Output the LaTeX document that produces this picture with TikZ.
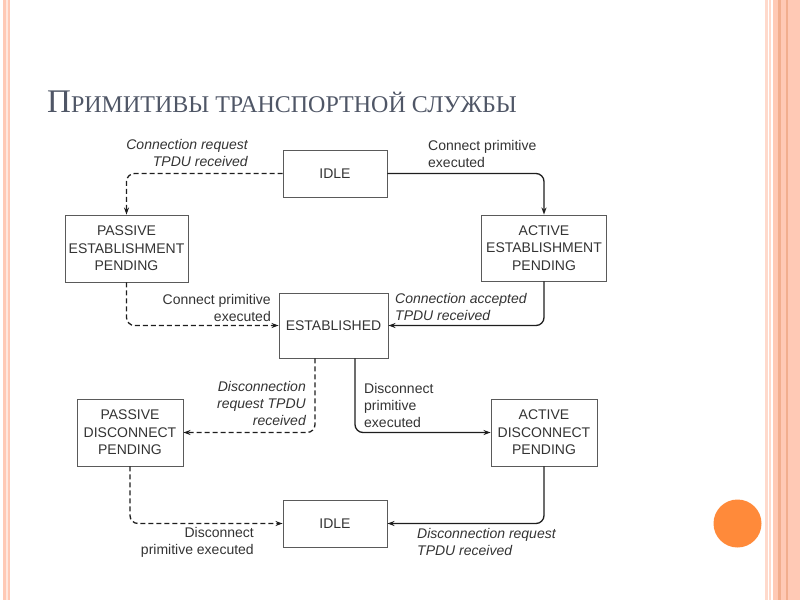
\documentclass[tikz,border=0pt]{standalone}
\usepackage{xcolor}
\usepackage{fontspec}
\setmainfont{Liberation Sans}
\newfontfamily\titlefont{Liberation Serif}
\usetikzlibrary{arrows.meta}
\usetikzlibrary{positioning}

\definecolor{boxline}{HTML}{5A5A5A}
\definecolor{wire}{HTML}{1E1E1E}
\definecolor{labeltext}{HTML}{333333}
\definecolor{titlegray}{HTML}{4F5666}
\definecolor{stripe}{HTML}{FFC9B5}
\definecolor{stripedark}{HTML}{F2AE8E}
\definecolor{dotorange}{HTML}{FF8A3A}

\begin{document}
\begin{tikzpicture}[
					x=1pt, y=-1pt,
					state/.style={draw=boxline, line width=0.9pt, align=center, text=labeltext, inner sep=0pt, font=\fontsize{14}{17.5}\selectfont},
					lbl/.style={text=labeltext, inner sep=0pt, font=\fontsize{14}{17}\selectfont},
					cause/.style={lbl, font=\fontsize{14}{17}\selectfont\itshape},
					flow/.style={draw=wire, line width=1.3pt, rounded corners=8pt, -{Stealth[length=7pt, width=5pt]}},
					flowdash/.style={flow, dash pattern=on 5pt off 3pt}
				]
					\useasboundingbox (0,0) rectangle (800,600);
					\fill[stripe] (3,0) rectangle (10,600);
					\fill[stripe!45] (5.5,0) rectangle (7.5,600);
					\fill[stripe!70] (765,0) rectangle (768,600);
					\fill[stripe!70] (769,0) rectangle (771,600);
					\fill[stripe] (773,0) rectangle (800,600);
					\fill[stripedark] (778,0) rectangle (780.5,600);
					\fill[stripedark] (786,0) rectangle (788,600);
					\fill[dotorange] (737.5,523.5) circle (24pt);

					\node[anchor=base west, text=titlegray, inner sep=0pt] (title) at (47,112) {\titlefont\fontsize{33}{33}\selectfont П\fontsize{24}{24}\selectfont РИМИТИВЫ ТРАНСПОРТНОЙ СЛУЖБЫ};

					\node[state, minimum width=104pt, minimum height=47pt] (idle) at (335,173.5) {IDLE};
					\node[state, minimum width=123pt, minimum height=67pt] (pasest) at (126.5,248.5) {PASSIVE\\ESTABLISHMENT\\PENDING};
					\node[state, minimum width=125pt, minimum height=66pt] (actest) at (544,248) {ACTIVE\\ESTABLISHMENT\\PENDING};
					\node[state, minimum width=109pt, minimum height=65pt] (estab) at (333.5,325.5) {ESTABLISHED};
					\node[state, minimum width=106pt, minimum height=67pt] (pasdis) at (130,432.5) {PASSIVE\\DISCONNECT\\PENDING};
					\node[state, minimum width=106pt, minimum height=67pt] (actdis) at (544,432.5) {ACTIVE\\DISCONNECT\\PENDING};
					\node[state, minimum width=104pt, minimum height=47pt] (idleb) at (335,523.5) {IDLE};

					\draw[flowdash] (idle.west) -| (pasest.north);
					\draw[flow] (idle.east) -| (actest.north);
					\draw[flowdash] (pasest.south) |- (estab.west);
					\draw[flow] (actest.south) |- (estab.east);
					\draw[flowdash] ([xshift=-18.5pt]estab.south) |- (pasdis.east);
					\draw[flow] ([xshift=21.5pt]estab.south) |- (actdis.west);
					\draw[flowdash] (pasdis.south) |- (idleb.west);
					\draw[flow] (actdis.south) |- (idleb.east);

					\node[cause, anchor=east, align=right] (reqin) at (248,153) {Connection request\\TPDU received};
					\node[lbl, anchor=west, align=left] (conout) at (428,153.5) {Connect primitive\\executed};
					\node[lbl, anchor=east, align=right] (conexec) at (271,308) {Connect primitive\\executed};
					\node[cause, anchor=west, align=left] (accin) at (395,307) {Connection accepted\\TPDU received};
					\node[cause, anchor=east, align=right] (disreqin) at (306,403) {Disconnection\\request TPDU\\received};
					\node[lbl, anchor=west, align=left] (disout) at (364,405) {Disconnect\\primitive\\executed};
					\node[lbl, anchor=east, align=right] (disexec) at (254,542) {Disconnect\\primitive executed};
					\node[cause, anchor=west, align=left] (disin) at (417,542) {Disconnection request\\TPDU received};
				\end{tikzpicture}
\end{document}
